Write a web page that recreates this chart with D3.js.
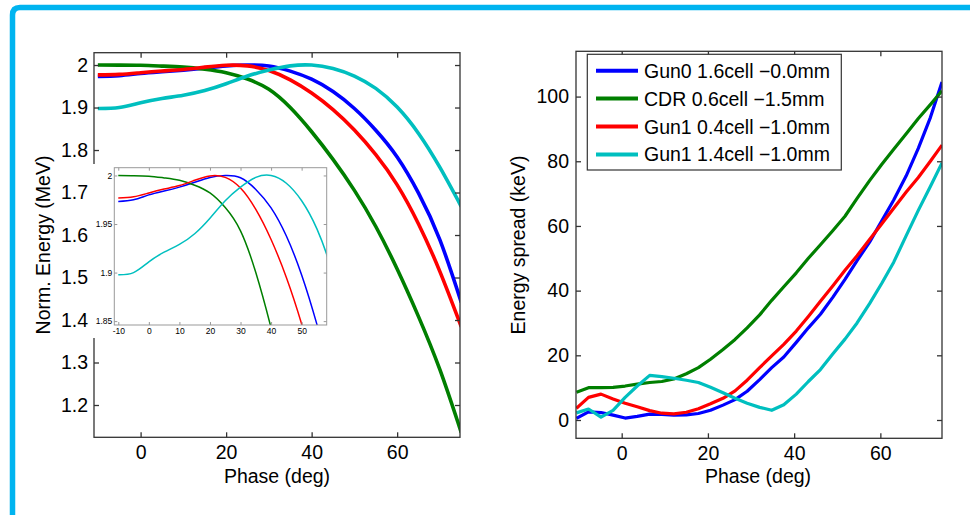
<!DOCTYPE html>
<html><head><meta charset="utf-8">
<script src="https://cdn.jsdelivr.net/npm/d3@7"></script>
<style>
body{margin:0;background:#fff;overflow:hidden}
text{font-family:"Liberation Sans",Arial,Helvetica,sans-serif;fill:#000}
</style>
</head><body>
<svg id="c" width="970" height="515"></svg>
<script>
// ---------------- DATA ----------------
const seriesNames = ["Gun0 1.6cell \u22120.0mm", "CDR 0.6cell \u22121.5mm", "Gun1 0.4cell \u22121.0mm", "Gun1 1.4cell \u22121.0mm"];

// Left: normalized energy (MeV) vs phase (deg)
const energyPhase = [-10, -5, 0, 5, 10, 15, 20, 25, 30, 35, 40, 45, 50, 55, 60, 65, 70, 75];
const energyGun0  = [1.9733, 1.975, 1.980, 1.984, 1.988, 1.993, 1.998, 2.000, 1.9976, 1.9856, 1.9666, 1.9376, 1.8976, 1.8466, 1.7836, 1.6986, 1.5886, 1.4416];
const energyCDR   = [2.000, 1.9998, 1.9993, 1.9975, 1.995, 1.990, 1.982, 1.967, 1.943, 1.900, 1.843, 1.778, 1.705, 1.620, 1.520, 1.408, 1.283, 1.135];
const energyGun1a = [1.9768, 1.978, 1.982, 1.986, 1.9896, 1.995, 1.9995, 1.998, 1.987, 1.965, 1.934, 1.895, 1.847, 1.789, 1.718, 1.626, 1.514, 1.384];
const energyGun1b = [1.8978, 1.900, 1.911, 1.921, 1.929, 1.940, 1.956, 1.974, 1.988, 1.998, 2.000, 1.992, 1.974, 1.945, 1.901, 1.839, 1.759, 1.667];

// Right: energy spread (keV) vs phase (deg)
const spreadPhase = [-10.5, -7.7, -4.8, -2, 0.8, 3.6, 6.5, 9.3, 12.1, 15, 17.8, 20.6, 23.5, 26.3, 29.1, 32, 34.8, 37.6, 40.5, 43.3, 46.1, 49, 51.8, 54.6, 57.5, 60.3, 63.1, 66, 68.8, 71.6, 74.3];
const spreadGun0  = [0.5, 2.5, 2.3, 1.5, 0.6, 1.1, 1.8, 1.7, 1.5, 1.6, 2.0, 3.0, 4.6, 6.3, 8.9, 12.5, 16.2, 19.5, 24.0, 28.5, 32.7, 38.0, 43.5, 49.3, 55.0, 61.5, 68.0, 75.5, 84.0, 93.5, 104.5];
const spreadCDR   = [8.6, 10.0, 10.0, 10.1, 10.5, 11.1, 11.6, 11.9, 12.7, 14.3, 16.2, 18.8, 21.8, 24.9, 28.5, 32.5, 37.0, 41.2, 45.5, 50.0, 54.2, 58.6, 63.0, 68.5, 74.0, 79.0, 83.7, 88.5, 93.2, 97.5, 101.8];
const spreadGun1a = [3.6, 7.0, 8.0, 6.5, 5.2, 4.1, 2.9, 2.1, 1.9, 2.4, 3.5, 5.0, 6.7, 9.0, 12.3, 16.2, 19.8, 23.4, 27.5, 32.0, 36.7, 41.5, 46.3, 50.8, 55.8, 60.6, 65.5, 70.5, 75.0, 80.0, 85.0];
const spreadGun1b = [2.2, 3.4, 0.9, 3.0, 7.0, 10.5, 13.8, 13.4, 12.9, 12.3, 11.6, 10.1, 8.4, 6.7, 5.2, 3.9, 3.0, 4.7, 8.0, 11.9, 15.6, 20.5, 25.0, 30.0, 36.0, 42.2, 48.8, 57.0, 64.8, 72.2, 79.5];

// Tick values
const energyXTicks = [0, 20, 40, 60];
const energyYTicks = [1.2, 1.3, 1.4, 1.5, 1.6, 1.7, 1.8, 1.9, 2.0];
const insetXTicks  = [-10, 0, 10, 20, 30, 40, 50];
const insetYTicks  = [1.85, 1.9, 1.95, 2.0];
const spreadXTicks = [0, 20, 40, 60];
const spreadYTicks = [0, 20, 40, 60, 80, 100];

// ---------------- STYLE ----------------
const colors = ["#0000ff", "#007f00", "#ff0000", "#00bfbf"];
const FS = 19.5;

const svg = d3.select("#c");

// frame
svg.append("path")
  .attr("d", "M12.5,520 L12.5,15 Q12.5,7.5 20,7.5 L980,7.5")
  .attr("fill", "none").attr("stroke", "#00b4f0").attr("stroke-width", 5.5);

const fmt = d => (+d.toFixed(2)).toString();

function axesBox(g, x, y, xt, yt, opt) {
  const [x0, x1] = x.range(), [y0, y1] = y.range();
  const tl = opt.tick, col = opt.color, fs = opt.fs, sw = opt.sw;
  const ax = [
    d3.axisBottom(x).tickValues(xt).tickSizeInner(-tl).tickSizeOuter(0).tickPadding(opt.padX).tickFormat(fmt),
    d3.axisTop(x).tickValues(xt).tickSizeInner(-tl).tickSizeOuter(0).tickFormat(""),
    d3.axisLeft(y).tickValues(yt).tickSizeInner(-tl).tickSizeOuter(0).tickPadding(opt.padY).tickFormat(fmt),
    d3.axisRight(y).tickValues(yt).tickSizeInner(-tl).tickSizeOuter(0).tickFormat("")
  ];
  const tr = [`translate(0,${y0})`, `translate(0,${y1})`, `translate(${x0},0)`, `translate(${x1},0)`];
  ax.forEach((a, i) => {
    const ag = g.append("g").attr("transform", tr[i]).call(a);
    ag.select(".domain").remove();
    ag.selectAll("line").attr("stroke", col).attr("stroke-width", sw);
    ag.selectAll("text").attr("font-size", fs).attr("fill", opt.textColor)
      .style("font-family", '"Liberation Sans",Arial,sans-serif');
  });
  g.append("rect").attr("x", x0).attr("y", y1).attr("width", x1 - x0).attr("height", y0 - y1)
    .attr("fill", "none").attr("stroke", col).attr("stroke-width", sw);
}

function drawLines(g, x, y, xs, sets, clipId, width, curve) {
  const line = d3.line().x((d, i) => x(xs[i])).y(d => y(d)).curve(curve);
  sets.forEach((s, k) => {
    g.append("path").attr("d", line(s)).attr("fill", "none")
      .attr("stroke", colors[k]).attr("stroke-width", width)
      .attr("stroke-linejoin", "round").attr("clip-path", `url(#${clipId})`);
  });
}

function clip(id, x, y) {
  const [x0, x1] = x.range(), [y0, y1] = y.range();
  svg.append("clipPath").attr("id", id).append("rect")
    .attr("x", x0).attr("y", y1).attr("width", x1 - x0).attr("height", y0 - y1);
}

// ---------- Left plot ----------
const xL = d3.scaleLinear().domain([-10.9, 74.7]).range([94, 460]);
const yL = d3.scaleLinear().domain([1.124, 2.029]).range([437.3, 52.7]);
clip("clipL", xL, yL);
const gL = svg.append("g");
const energySets = [energyGun0, energyCDR, energyGun1a, energyGun1b];
drawLines(gL, xL, yL, energyPhase, energySets, "clipL", 3.6, d3.curveNatural);
axesBox(gL, xL, yL, energyXTicks, energyYTicks, {tick: 5, color: "#333", fs: FS, sw: 1.3, padX: 8, padY: 6, textColor: "#000"});
gL.append("text").attr("x", 277).attr("y", 483).attr("text-anchor", "middle").attr("font-size", FS).text("Phase (deg)");
gL.append("text").attr("transform", "translate(50,245) rotate(-90)").attr("text-anchor", "middle").attr("font-size", FS).text("Norm. Energy (MeV)");

// ---------- Inset ----------
const gI = svg.append("g");
gI.append("rect").attr("x", 91).attr("y", 164).attr("width", 241).attr("height", 174).attr("fill", "#fff");
const xI = d3.scaleLinear().domain([-11.3, 58.2]).range([114.3, 326.7]);
const yI = d3.scaleLinear().domain([1.846, 2.008]).range([325, 167.7]);
clip("clipI", xI, yI);
drawLines(gI, xI, yI, energyPhase, energySets, "clipI", 1.5, d3.curveNatural);
axesBox(gI, xI, yI, insetXTicks, insetYTicks, {tick: 3, color: "#999", fs: 8.5, sw: 1, padX: 3, padY: 2, textColor: "#333"});

// ---------- Right plot ----------
const xR = d3.scaleLinear().domain([-10.6, 74.3]).range([576, 942]);
const yR = d3.scaleLinear().domain([-5.66, 114]).range([438.3, 51.3]);
clip("clipR", xR, yR);
const gR = svg.append("g");
const spreadSets = [spreadGun0, spreadCDR, spreadGun1a, spreadGun1b];
drawLines(gR, xR, yR, spreadPhase, spreadSets, "clipR", 3.2, d3.curveLinear);
axesBox(gR, xR, yR, spreadXTicks, spreadYTicks, {tick: 5, color: "#333", fs: FS, sw: 1.3, padX: 8, padY: 7, textColor: "#000"});
gR.append("text").attr("x", 758).attr("y", 483).attr("text-anchor", "middle").attr("font-size", FS).text("Phase (deg)");
gR.append("text").attr("transform", "translate(525,245) rotate(-90)").attr("text-anchor", "middle").attr("font-size", FS).text("Energy spread (keV)");

// legend
const lg = gR.append("g");
lg.append("rect").attr("x", 587.3).attr("y", 54.3).attr("width", 254).attr("height", 115.7)
  .attr("fill", "#fff").attr("stroke", "#333").attr("stroke-width", 1.2);
seriesNames.forEach((n, i) => {
  const yy = 70.7 + i * 27.9;
  lg.append("line").attr("x1", 596).attr("x2", 638).attr("y1", yy).attr("y2", yy)
    .attr("stroke", colors[i]).attr("stroke-width", 4);
  lg.append("text").attr("x", 644).attr("y", yy).attr("dy", "0.36em").attr("font-size", FS).text(n);
});
</script>
</body></html>
